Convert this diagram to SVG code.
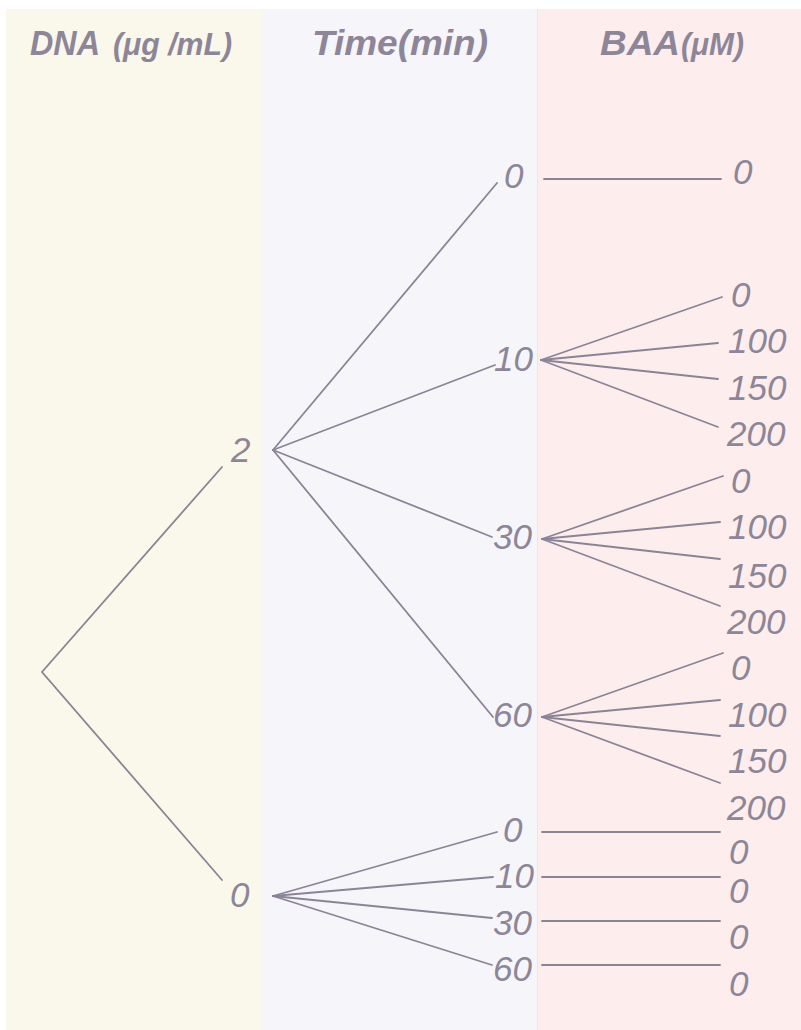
<svg xmlns="http://www.w3.org/2000/svg" width="801" height="1030" viewBox="0 0 801 1030">
  <style>
    .hdr { font-family: "Liberation Sans", Arial, sans-serif; font-style: italic; font-weight: bold; fill: #8d8699; }
    .lbl { font-family: "Liberation Sans", Arial, sans-serif; font-style: italic; font-size: 35px; fill: #8d8699; }
    .edge { stroke: #8b8497; stroke-width: 1.8; fill: none; stroke-linecap: round; }
  </style>
  <rect x="0" y="0" width="801" height="1030" fill="#ffffff"/>
  <!-- column panels -->
  <g id="panels">
    <rect x="6" y="9" width="255" height="1021" fill="#faf8ea"/>
    <rect x="261" y="9" width="276" height="1021" fill="#f6f5fa"/>
    <rect x="537" y="9" width="264" height="1021" fill="#fdeeed"/>
    <line x1="537.5" y1="9" x2="537.5" y2="1030" stroke="#f3e3e3" stroke-width="1"/>
  </g>
  <!-- column headers -->
  <g id="headers">
    <text class="hdr" x="30" y="55" font-size="35" textLength="70" lengthAdjust="spacingAndGlyphs">DNA</text>
    <text class="hdr" x="113" y="55" font-size="31" textLength="119" lengthAdjust="spacingAndGlyphs">(μg /mL)</text>
    <text class="hdr" x="312" y="55" font-size="35" textLength="176" lengthAdjust="spacingAndGlyphs">Time(min)</text>
    <text class="hdr" x="600" y="55" font-size="35" textLength="80" lengthAdjust="spacingAndGlyphs">BAA</text>
    <text class="hdr" x="681" y="55" font-size="31" textLength="63" lengthAdjust="spacingAndGlyphs">(μM)</text>
  </g>
  <!-- connectors -->
  <g id="connectors" class="edge">
    <!-- root to DNA levels -->
    <polyline points="222,467 42,672 222,880"/>
    <!-- DNA 2 to times -->
    <line x1="273" y1="450" x2="497" y2="183"/>
    <line x1="273" y1="450" x2="495" y2="365"/>
    <line x1="273" y1="450" x2="492" y2="537"/>
    <line x1="273" y1="450" x2="493" y2="717"/>
    <!-- DNA 0 to times -->
    <line x1="273" y1="896" x2="497" y2="832"/>
    <line x1="273" y1="896" x2="493" y2="877"/>
    <line x1="273" y1="896" x2="492" y2="918"/>
    <line x1="273" y1="896" x2="492" y2="965"/>
    <!-- time 0 (DNA 2) -->
    <line x1="544" y1="179" x2="721" y2="179"/>
    <!-- time 10 -->
    <line x1="541" y1="360" x2="722" y2="297"/>
    <line x1="541" y1="360" x2="718" y2="343"/>
    <line x1="541" y1="360" x2="718" y2="379"/>
    <line x1="541" y1="360" x2="718" y2="427"/>
    <!-- time 30 -->
    <line x1="542" y1="539" x2="723" y2="476"/>
    <line x1="542" y1="539" x2="720" y2="522"/>
    <line x1="542" y1="539" x2="720" y2="559"/>
    <line x1="542" y1="539" x2="720" y2="606"/>
    <!-- time 60 -->
    <line x1="542" y1="717" x2="723" y2="653"/>
    <line x1="542" y1="717" x2="720" y2="700"/>
    <line x1="542" y1="717" x2="720" y2="736"/>
    <line x1="542" y1="717" x2="720" y2="783"/>
    <!-- DNA 0 branches -->
    <line x1="542" y1="832" x2="720" y2="832"/>
    <line x1="542" y1="877" x2="720" y2="877"/>
    <line x1="542" y1="921" x2="720" y2="921"/>
    <line x1="542" y1="965" x2="720" y2="965"/>
  </g>
  <!-- DNA level nodes -->
  <g id="dna-2"><text class="lbl" x="231" y="462">2</text></g>
  <g id="dna-0"><text class="lbl" x="230" y="907">0</text></g>
  <!-- time nodes -->
  <g id="t-2-0"><text class="lbl" x="504" y="188">0</text></g>
  <g id="t-2-10"><text class="lbl" x="494" y="371">10</text></g>
  <g id="t-2-30"><text class="lbl" x="493" y="549">30</text></g>
  <g id="t-2-60"><text class="lbl" x="493" y="727">60</text></g>
  <g id="t-0-0"><text class="lbl" x="503" y="842">0</text></g>
  <g id="t-0-10"><text class="lbl" x="495" y="888">10</text></g>
  <g id="t-0-30"><text class="lbl" x="493" y="935">30</text></g>
  <g id="t-0-60"><text class="lbl" x="493" y="981">60</text></g>
  <!-- BAA nodes -->
  <g id="b-2-0-0"><text class="lbl" x="733" y="184">0</text></g>
  <g id="b-2-10">
    <text class="lbl" x="731" y="307">0</text>
    <text class="lbl" x="728" y="353">100</text>
    <text class="lbl" x="728" y="400">150</text>
    <text class="lbl" x="727" y="446">200</text>
  </g>
  <g id="b-2-30">
    <text class="lbl" x="731" y="493">0</text>
    <text class="lbl" x="728" y="539">100</text>
    <text class="lbl" x="728" y="588">150</text>
    <text class="lbl" x="727" y="634">200</text>
  </g>
  <g id="b-2-60">
    <text class="lbl" x="731" y="680">0</text>
    <text class="lbl" x="728" y="727">100</text>
    <text class="lbl" x="728" y="773">150</text>
    <text class="lbl" x="727" y="820">200</text>
  </g>
  <g id="b-0">
    <text class="lbl" x="729" y="864">0</text>
    <text class="lbl" x="729" y="903">0</text>
    <text class="lbl" x="729" y="949">0</text>
    <text class="lbl" x="729" y="996">0</text>
  </g>
</svg>
